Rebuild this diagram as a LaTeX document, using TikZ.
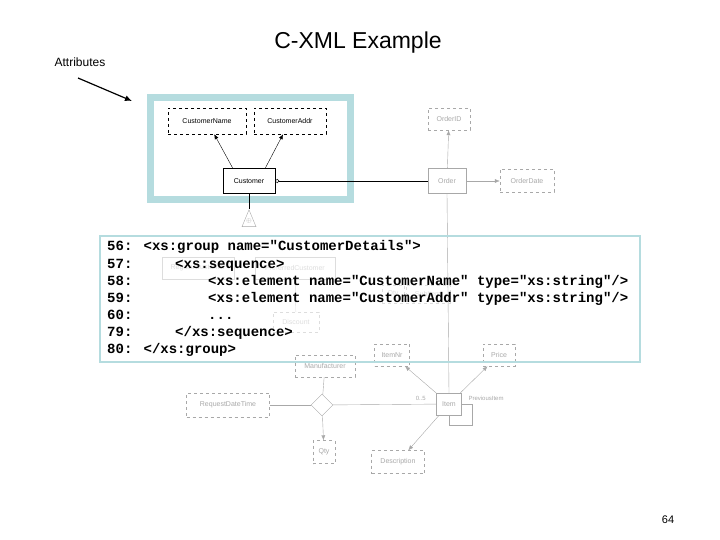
\documentclass[tikz,border=0pt]{standalone}
\usepackage{fontspec}
\setmainfont{Liberation Sans}
\newfontfamily\codef{Liberation Mono}
\usetikzlibrary{arrows.meta,shapes.geometric}
\definecolor{teal1}{HTML}{B5DCDF}
\definecolor{lg}{HTML}{A8A8A8}
\definecolor{fg}{HTML}{DDDDDD}
\begin{document}
\begin{tikzpicture}[x=1pt,y=-1pt,
  ent/.style={draw,inner sep=0pt,font=\fontsize{7}{8}\selectfont},
  att/.style={ent,dashed},
  gent/.style={draw=lg,text=lg,inner sep=0pt,font=\fontsize{7}{8}\selectfont},
  gatt/.style={gent,dashed},
  fent/.style={draw=fg,text=fg,inner sep=0pt,font=\fontsize{7}{8}\selectfont},
  code/.style={anchor=base west,inner sep=0pt,font=\codef\bfseries\fontsize{14}{15}\selectfont},
  arr/.style={-{Latex[length=5pt,width=4pt]}},
  garr/.style={lg,-{Latex[length=5pt,width=4pt]}}]
\useasboundingbox (0,0) rectangle (720,540);
\node (title) at (358,43) {\fontsize{23}{26}\selectfont C-XML Example};
\node (attr) at (80,62) {\fontsize{12}{14}\selectfont Attributes};
\coordinate (a1) at (78,78);
\coordinate (a2) at (132,101);
\draw[line width=1.2pt,-{Latex[length=7pt,width=6pt]}] (a1) -- (a2);
% gray background diagram
\node[gatt,minimum width=42,minimum height=22] (oid) at (449,119) {OrderID};
\node[gent,minimum width=38,minimum height=25] (ord) at (447,181) {Order};
\node[gatt,minimum width=54,minimum height=23] (odt) at (527,181) {OrderDate};
\draw[garr] (ord) -- (oid);
\draw[garr] (ord) -- (odt);
\node[gent,minimum width=25,minimum height=22] (item) at (449,404) {Item};
\draw[lg] (ord.south) -- (item.north);
% faint remnants behind code box
\node[fent,minimum width=72,minimum height=22] (rc) at (198,268) {RegularCustomer};
\node[fent,minimum width=80,minimum height=22] (pc) at (295,268) {PreferredCustomer};
\node[fent,dashed,minimum width=46,minimum height=20] (disc) at (296,322) {Discount};
\node[fent,dashed,minimum width=22,minimum height=18] (sq) at (393,294) {Qty};
\node[fent,dashed,minimum width=44,minimum height=18] (si) at (428,294) {SubItem};
\draw[fg] (pc) -- (disc);
\draw[fg] (sq) -- (si);
\node[gatt,minimum width=35,minimum height=22] (inr) at (392,355) {ItemNr};
\node[gatt,minimum width=32,minimum height=22] (price) at (499,355) {Price};
\node[gatt,minimum width=60,minimum height=22] (man) at (325,366) {Manufacturer};
\node[gent,diamond,minimum width=22,minimum height=22] (dia) at (322,405) {};
\node[gatt,minimum width=83,minimum height=24] (rdt) at (228,405) {RequestDateTime};
\node[gatt,minimum width=22,minimum height=23] (qty) at (324,452) {Qty};
\node[gatt,minimum width=53,minimum height=23] (desc) at (398,462) {Description};
\draw[lg] (man) -- (dia);
\draw[lg] (rdt) -- (dia);
\draw[garr] (dia) -- (qty);
\draw[lg] (dia) -- (item) node[pos=0.85,above,text=lg,font=\fontsize{6}{7}\selectfont] {0..5};
\draw[garr] (item) -- (inr);
\draw[garr] (item) -- (price);
\draw[garr] (item) -- (desc);
\draw[lg] (item.east) -- ++(10,0) |- ([yshift=-10]item.south) -- (item.south);
\node[text=lg,font=\fontsize{6}{7}\selectfont,anchor=west] (prev) at (465,398) {PreviousItem};
\node[gent,isosceles triangle,shape border rotate=90,minimum width=14,minimum height=12] (tri) at (249,222) {};
\node[text=lg,font=\fontsize{6}{7}\selectfont] (plus) at (249,221) {$\oplus$};
% teal box
\draw[teal1,line width=7pt,fill=white] (150,98) rectangle (350,200);
\node[att,minimum width=78,minimum height=26] (cn) at (207,121) {CustomerName};
\node[att,minimum width=72,minimum height=26] (ca) at (290,121) {CustomerAddr};
\node[ent,minimum width=52,minimum height=25,fill=white] (cu) at (249,181) {Customer};
\draw[arr] (cu.north west) ++(10,0) -- (cn);
\draw[arr] (cu.north east) ++(-10,0) -- (ca);
\draw[-{Circle[open,length=4pt]}] (ord) -- (cu);
\draw (cu.south) -- (tri.apex);
% code box
\draw[teal1,line width=2pt] (100,236) rectangle (640,362);
\node[code] (l1) at (107,251) {56: <xs:group name="CustomerDetails">};
\node[code] (l2) at (107,268) {57:};
\node[code] (l2b) at (175,268) {<xs:sequence>};
\node[code] (l3) at (107,285) {58:};
\node[code] (l3b) at (208,285) {<xs:element name="CustomerName" type="xs:string"/>};
\node[code] (l4) at (107,302) {59:};
\node[code] (l4b) at (208,302) {<xs:element name="CustomerAddr" type="xs:string"/>};
\node[code] (l5) at (107,319) {60:};
\node[code] (l5b) at (208,319) {...};
\node[code] (l6) at (107,336) {79:};
\node[code] (l6b) at (175,336) {</xs:sequence>};
\node[code] (l7) at (107,353) {80: </xs:group>};
\node (pg) at (668,520) {\fontsize{11}{13}\selectfont 64};
\end{tikzpicture}
\end{document}
